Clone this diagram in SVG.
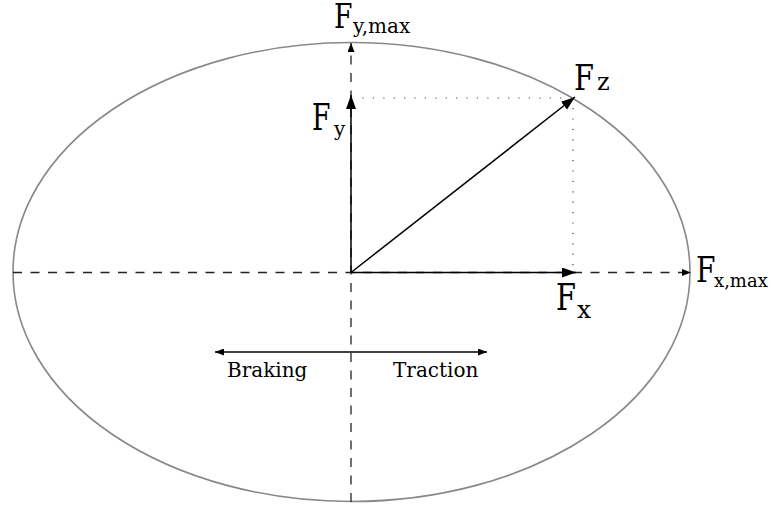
<svg xmlns="http://www.w3.org/2000/svg" width="771" height="508" viewBox="0 0 771 508">
<style>
.lbl{font-family:"DejaVu Serif","Liberation Serif",serif;fill:#000}
.dash{stroke:#222;stroke-width:1.3;fill:none;stroke-dasharray:9 8.5}
.dot{stroke:#444;stroke-width:1.2;fill:none;stroke-dasharray:1.2 9.2}
.vec{stroke:#000;stroke-width:1.5;fill:none}
</style>
<defs>
<marker id="big" markerUnits="userSpaceOnUse" markerWidth="14" markerHeight="10" refX="14" refY="5" orient="auto"><path d="M0,0 L14,5 L0,10 Z" fill="#000"/></marker>
<marker id="small" markerUnits="userSpaceOnUse" markerWidth="9" markerHeight="7" refX="9" refY="3.5" orient="auto-start-reverse"><path d="M0,0 L9,3.5 L0,7 Z" fill="#000"/></marker>
</defs>
<g id="ellipse"><ellipse cx="351.5" cy="272" rx="338.5" ry="229.5" fill="none" stroke="#888" stroke-width="1.6"/></g>
<g id="connectors">
<line class="dash" x1="13" y1="272.5" x2="691" y2="272.5" marker-end="url(#small)"/>
<line class="dash" x1="351" y1="502" x2="351" y2="43" marker-end="url(#small)"/>
<line class="dot" x1="362.5" y1="98" x2="570" y2="98"/>
<line class="dot" x1="573" y1="108" x2="573" y2="270"/>
<line class="vec" x1="351" y1="272.5" x2="351" y2="95" marker-end="url(#big)"/>
<line class="vec" x1="351" y1="272.5" x2="576" y2="272.5" marker-end="url(#big)"/>
<line class="vec" x1="351" y1="272.5" x2="575" y2="97" marker-end="url(#big)"/>
<line class="vec" x1="215" y1="352" x2="487" y2="352" stroke-width="1.3" marker-start="url(#small)" marker-end="url(#small)"/>
</g>
<g id="label-fymax"><text class="lbl" x="334" y="27.5" font-size="33" textLength="18.5" lengthAdjust="spacingAndGlyphs">F</text><text class="lbl" x="353" y="32.5" font-size="20">y,max</text></g>
<g id="label-fy"><text class="lbl" x="312" y="130" font-size="37" textLength="18.5" lengthAdjust="spacingAndGlyphs">F</text><text class="lbl" x="334" y="136" font-size="20">y</text></g>
<g id="label-fz"><text class="lbl" x="574" y="90" font-size="35" textLength="20" lengthAdjust="spacingAndGlyphs">F</text><text class="lbl" x="597" y="90" font-size="24">z</text></g>
<g id="label-fx"><text class="lbl" x="556" y="310" font-size="38" textLength="20" lengthAdjust="spacingAndGlyphs">F</text><text class="lbl" x="577" y="318" font-size="25">x</text></g>
<g id="label-fxmax"><text class="lbl" x="696" y="282" font-size="36" textLength="19.5" lengthAdjust="spacingAndGlyphs">F</text><text class="lbl" x="714" y="287" font-size="18">x,max</text></g>
<g id="label-braking"><text class="lbl" x="227" y="377" font-size="20">Braking</text></g>
<g id="label-traction"><text class="lbl" x="393" y="377" font-size="20">Traction</text></g>
</svg>
